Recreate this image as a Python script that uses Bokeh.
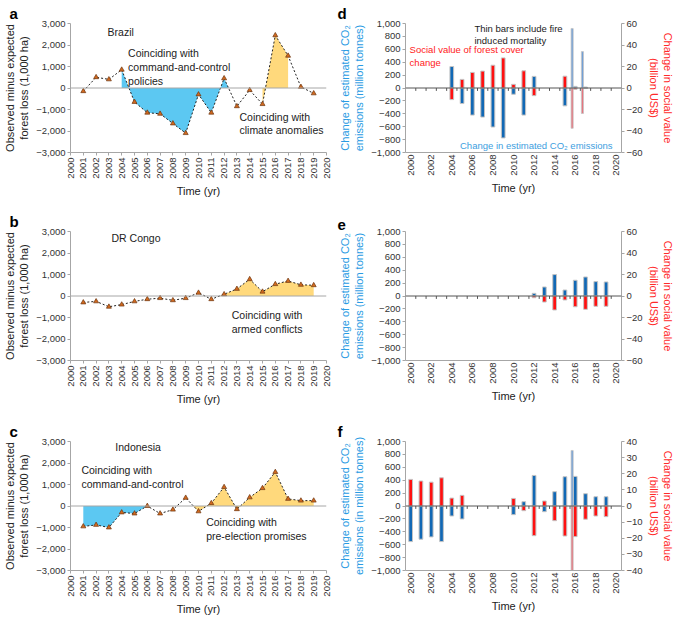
import numpy as np
from bokeh.plotting import figure
from bokeh.models import Range1d, LinearAxis, Span, FixedTicker, CustomJSTickFormatter
from bokeh.layouts import column, row
from bokeh.embed import file_html
from bokeh.resources import INLINE
from bokeh.core.properties import value

# ---------------- data ----------------
years = list(range(2001, 2020))
brazil_loss = [-150, 500, 400, 850, -650, -1150, -1200, -1650, -2100, -300,
               -1150, 450, -850, -100, -750, 2450, 1500, 50, -250]
drc_loss = [-300, -250, -500, -400, -250, -150, -100, -200, -100, 150,
            -150, 80, 330, 780, 200, 550, 700, 520, 500]
indo_loss = [-950, -880, -1000, -300, -350, 0, -350, -170, 380, -250,
             130, 880, -150, 400, 830, 1580, 330, 250, 250]

brazil_bar_years = [2004, 2005, 2006, 2007, 2008, 2009, 2010, 2011, 2012, 2015, 2016, 2017]
brazil_co2 = [333, -241, -420, -451, -605, -774, -97, -420, 180, -277, 25, 15]
brazil_value = [-10.8, 8, 14.5, 15.7, 21.2, 28, 3.4, 16, -7.1, 11, -1.2, -0.5]
brazil_fire_years = [2015.7, 2016.7]
brazil_fire_co2 = [923, 564]
brazil_fire_value = [-37.5, -23.7]

drc_bar_years = [2012, 2013, 2014, 2015, 2016, 2017, 2018, 2019]
drc_co2 = [41, 140, 332, 93, 244, 295, 223, 218]
drc_value = [-1.6, -5.6, -13, -3.7, -10, -12.4, -9.6, -9.6]

indo_bar_years = [2000, 2001, 2002, 2003, 2004, 2005, 2010, 2011, 2012, 2013,
                  2014, 2015, 2016, 2017, 2018, 2019]
indo_co2 = [-552, -515, -479, -552, -155, -201, -134, 67, 474, -88,
            222, 454, 459, 191, 144, 144]
indo_value = [16.5, 15.5, 14.8, 17.5, 4.9, 6.6, 4.7, -2.9, -18.4, 3.1,
              -9.1, -18.6, -19, -8.2, -6.2, -6.6]
indo_fire_years = [2015.7]
indo_fire_co2 = [861]
indo_fire_value = [-45]

all_bar_years = list(range(2000, 2020))

# shaded periods (start year, year after which the line returns to zero / end year)
brazil_policy = (2004, 2012)
brazil_climate = (2015, 2017)
drc_conflict = (2011, 2019)
indo_policy = (2001, 2006)
indo_election = (2009, 2019)

FONT = "Liberation Sans"
BLUE_FILL = "#5cc8f2"
YELLOW_FILL = "#ffd97c"
AXIS_GRAY = "#a6a6a6"
FRAME_H = 129

fmt = CustomJSTickFormatter(code="""
const s = Math.abs(tick).toLocaleString('en-US');
return (tick < 0 ? '\u2212' : '') + s;
""")


def zero_cross(xs, ys, after):
    i = xs.index(after)
    y0, y1 = ys[i], ys[i + 1]
    return after + y0 / (y0 - y1)


def fill_region(p, xs, ys, x0, x1, color):
    xa = np.array(xs, float)
    ya = np.array(ys, float)
    inner = (xa > x0) & (xa < x1)
    px = np.concatenate([[x0], xa[inner], [x1]])
    py = np.interp(px, xa, ya)
    p.varea(x=px, y1=np.zeros_like(px), y2=py, fill_color=color, fill_alpha=1)


def style_axis(ax, label_size="11px"):
    ax.axis_line_color = AXIS_GRAY
    ax.major_tick_line_color = AXIS_GRAY
    ax.minor_tick_line_color = None
    ax.major_tick_out = 3
    ax.major_tick_in = 0
    ax.major_label_text_font = FONT
    ax.major_label_text_font_size = "9.5px"
    ax.major_label_text_color = "#333333"
    ax.major_label_standoff = 2
    ax.axis_label_text_font = FONT
    ax.axis_label_text_font_size = label_size
    ax.axis_label_text_font_style = "normal"
    ax.axis_label_text_color = "#222222"
    ax.axis_label_standoff = 3


def base_fig(fw, top, left, right, xr, yr, letter):
    p = figure(frame_width=fw, frame_height=FRAME_H,
               x_range=Range1d(*xr), y_range=Range1d(*yr),
               output_backend="svg", toolbar_location=None,
               min_border_top=top, min_border_left=left,
               min_border_right=right, min_border_bottom=10)
    p.grid.visible = False
    p.outline_line_color = None
    p.background_fill_color = "white"
    p.title.text = letter
    p.title.align = "left"
    p.title.offset = -(left - 2)
    p.title.text_font = FONT
    p.title.text_font_size = "15px"
    p.title.text_font_style = "bold"
    p.title.text_color = "black"
    p.title.standoff = 4
    return p


def add_text(p, x, y, txt, color="#222222", size="10.5px", baseline="top"):
    p.text(x=[x], y=[y], text=[txt], text_font=value(FONT), text_font_size=size,
           text_color=color, text_baseline=baseline, text_align="left",
           text_line_height=1.15)


def left_panel(letter, country, vals, fills, notes, top):
    p = base_fig(256, top, 63, 9, (2000, 2020), (-3000, 3000), letter)
    xa = p.xaxis[0]
    ya = p.yaxis[0]
    style_axis(xa)
    style_axis(ya)
    xa.ticker = FixedTicker(ticks=list(range(2000, 2021)))
    xa.major_label_orientation = np.pi / 2
    xa.axis_label = "Time (yr)"
    ya.ticker = FixedTicker(ticks=list(range(-3000, 3001, 1000)))
    ya.formatter = fmt
    ya.axis_label = "Observed minus expected\nforest loss (1,000 ha)"
    for x0, x1, color in fills:
        fill_region(p, years, vals, x0, x1, color)
    p.add_layout(Span(location=0, dimension="width", line_color=AXIS_GRAY, line_width=1))
    p.line(years, vals, line_dash="2 2", line_color="#222222", line_width=1)
    p.scatter(years, vals, marker="triangle", size=5, fill_color="#d2691e",
              line_color="#6b3510", line_width=0.7)
    add_text(p, country[0], country[1], country[2], baseline="middle", size="10.5px")
    for x, y, t in notes:
        add_text(p, x, y, t)
    return p


def right_panel(letter, byears, co2, val, fyears, fco2, fval, rlim, rstep, left_label,
                notes, top):
    p = base_fig(216, top, 70, 48, (1999.5, 2020.5), (-1000, 1000), letter)
    p.extra_y_ranges = {"sv": Range1d(-rlim, rlim)}
    ax_r = LinearAxis(y_range_name="sv")
    p.add_layout(ax_r, "right")
    xa = p.xaxis[0]
    ya = p.yaxis[0]
    for ax in (xa, ya, ax_r):
        style_axis(ax, "11px")
    xa.ticker = FixedTicker(ticks=list(range(2000, 2021, 2)))
    xa.major_label_orientation = np.pi / 2
    xa.major_tick_out = 0
    xa.axis_label = "Time (yr)"
    ya.ticker = FixedTicker(ticks=list(range(-1000, 1001, 200)))
    ya.formatter = fmt
    ya.axis_label = left_label
    ya.axis_label_text_color = "#2a9be3"
    ax_r.ticker = FixedTicker(ticks=list(range(-rlim, rlim + 1, rstep)))
    ax_r.formatter = fmt
    ax_r.axis_label = "Change in social value\n(billion US$)"
    ax_r.axis_label_text_color = "#ff2a2a"
    ax_r.axis_label_standoff = 2

    p.add_layout(Span(location=0, dimension="width", line_color="#555555", line_width=1))
    tick_x = [y + 0.5 for y in all_bar_years]
    p.segment(x0=tick_x, x1=tick_x, y0=[0] * len(tick_x), y1=[-45] * len(tick_x),
              line_color="#555555", line_width=1)

    p.vbar(x=byears, top=co2, bottom=0, width=0.36, fill_color="#1168b5",
           line_color="#c4c4c4", line_width=1)
    p.vbar(x=byears, top=val, bottom=0, width=0.36, fill_color="#ff1010",
           line_color="#c4c4c4", line_width=1, y_range_name="sv")
    if fyears:
        p.vbar(x=fyears, top=fco2, bottom=0, width=0.2, fill_color="#6f9fd8",
               line_color="#c4c4c4", line_width=0.8)
        p.vbar(x=fyears, top=fval, bottom=0, width=0.2, fill_color="#e8727c",
               line_color="#c4c4c4", line_width=0.8, y_range_name="sv")
    for x, y, t, c in notes:
        add_text(p, x, y, t, color=c, size="9.5px")
    return p


pa = left_panel("a", (2002.9, 2620, "Brazil"), brazil_loss,
                [(brazil_policy[0], zero_cross(years, brazil_loss, brazil_policy[1]), BLUE_FILL),
                 (brazil_climate[0], brazil_climate[1], YELLOW_FILL)],
                [(2004.5, 1900, "Coinciding with\ncommand-and-control\npolicies"),
                 (2013.2, -1050, "Coinciding with\nclimate anomalies")],
                20)
pb = left_panel("b", (2003.2, 2700, "DR Congo"), drc_loss,
                [(zero_cross(years, drc_loss, drc_conflict[0]), drc_conflict[1], YELLOW_FILL)],
                [(2012.6, -620, "Coinciding with\narmed conflicts")],
                32)
pc = left_panel("c", (2003.5, 2750, "Indonesia"), indo_loss,
                [(indo_policy[0], indo_policy[1], BLUE_FILL),
                 (zero_cross(years, indo_loss, indo_election[0]), indo_election[1], YELLOW_FILL)],
                [(2000.85, 1950, "Coinciding with\ncommand-and-control"),
                 (2010.6, -480, "Coinciding with\npre-election promises")],
                34)

pd_ = right_panel("d", brazil_bar_years, brazil_co2, brazil_value,
                  brazil_fire_years, brazil_fire_co2, brazil_fire_value, 60, 20,
                  "Change of estimated CO\u2082\nemissions (million tonnes)",
                  [(2006.2, 1010, "Thin bars include fire\ninduced mortality", "#1a1a1a"),
                   (1999.9, 680, "Social value of forest cover\nchange", "#ff1a1a"),
                   (2004.8, -810, "Change in estimated CO\u2082 emissions", "#3d9ee0")],
                  20)
pe = right_panel("e", drc_bar_years, drc_co2, drc_value, [], [], [], 60, 20,
                 "Change of estimated CO\u2082\nemissions (million tonnes)", [], 32)
pf = right_panel("f", indo_bar_years, indo_co2, indo_value,
                 indo_fire_years, indo_fire_co2, indo_fire_value, 40, 10,
                 "Change of estimated CO\u2082\nemissions (in million tonnes)", [], 34)

layout = column(row(pa, pd_), row(pb, pe), row(pc, pf))
open("out.html", "w").write(file_html(layout, INLINE))
